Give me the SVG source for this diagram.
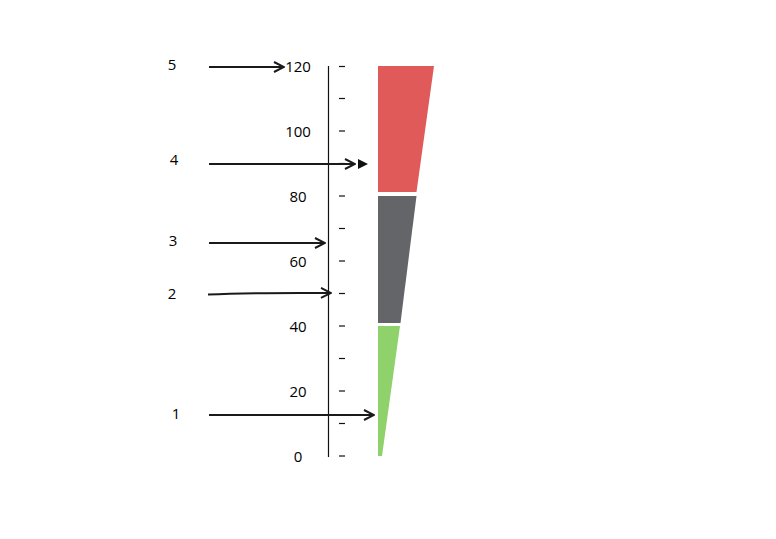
<svg xmlns="http://www.w3.org/2000/svg" width="776" height="539" viewBox="0 0 776 539">
<defs>
<style>
.lbl{font-family:"Open Sans","Liberation Sans",sans-serif;font-size:15px;fill:#000;text-anchor:middle}
.tick{stroke:#111;stroke-width:1.2}
.arr{fill:none;stroke:#1a1a1a;stroke-width:2}
</style>
<marker id="ah" viewBox="0 0 12 12" refX="11" refY="6" markerWidth="12" markerHeight="12" markerUnits="userSpaceOnUse" orient="auto">
<path d="M1,1 L11,6 L1,11" fill="none" stroke="#1a1a1a" stroke-width="2"/>
</marker>
</defs>
<rect width="776" height="539" fill="#fff"/>
<g id="axis">
<line x1="328.5" y1="66" x2="328.5" y2="457" stroke="#111" stroke-width="1.2"/>
<g class="tick">
<line x1="339" y1="66.5" x2="345" y2="66.5"/>
<line x1="339" y1="98.5" x2="345" y2="98.5"/>
<line x1="339" y1="131" x2="345" y2="131"/>
<line x1="339" y1="163.5" x2="345" y2="163.5"/>
<line x1="339" y1="196" x2="345" y2="196"/>
<line x1="339" y1="228.5" x2="345" y2="228.5"/>
<line x1="339" y1="261" x2="345" y2="261"/>
<line x1="339" y1="293.5" x2="345" y2="293.5"/>
<line x1="339" y1="326" x2="345" y2="326"/>
<line x1="339" y1="358.5" x2="345" y2="358.5"/>
<line x1="339" y1="391" x2="345" y2="391"/>
<line x1="339" y1="423.5" x2="345" y2="423.5"/>
<line x1="339" y1="456" x2="345" y2="456"/>
</g>
<text class="lbl" x="298" y="72">120</text>
<text class="lbl" x="298" y="137">100</text>
<text class="lbl" x="298" y="202">80</text>
<text class="lbl" x="298" y="267">60</text>
<text class="lbl" x="298" y="332">40</text>
<text class="lbl" x="298" y="397">20</text>
<text class="lbl" x="298" y="462">0</text>
</g>
<g id="bar">
<polygon points="378,66 434,66 416.5,192 378,192" fill="#E05A5A"/>
<polygon points="378,196 416.5,196 400.5,323 378,323" fill="#646569"/>
<polygon points="378,326 400,326 382,456 378,456" fill="#8FD16A"/>
</g>
<g id="n5"><text class="lbl" x="172" y="70">5</text></g>
<g id="n4"><text class="lbl" x="174" y="165">4</text></g>
<g id="n3"><text class="lbl" x="173" y="246">3</text></g>
<g id="n2"><text class="lbl" x="172" y="299">2</text></g>
<g id="n1"><text class="lbl" x="176" y="419">1</text></g>
<g id="connectors">
<line class="arr" x1="209" y1="67" x2="284" y2="67" marker-end="url(#ah)"/>
<line class="arr" x1="209" y1="164" x2="355" y2="164" marker-end="url(#ah)"/>
<polygon points="358,159 368,164 358,169" fill="#111"/>
<line class="arr" x1="209" y1="243" x2="325" y2="243" marker-end="url(#ah)"/>
<path class="arr" d="M208,294.5 Q250,292.5 331,293" marker-end="url(#ah)"/>
<line class="arr" x1="209" y1="415" x2="374" y2="415" marker-end="url(#ah)"/>
</g>
</svg>
